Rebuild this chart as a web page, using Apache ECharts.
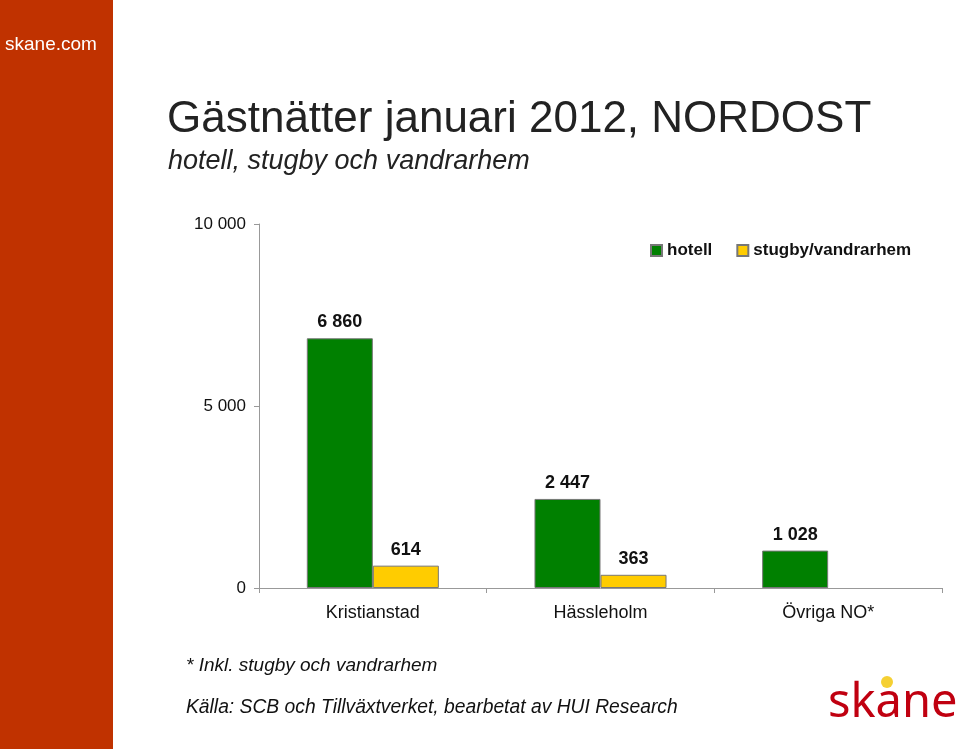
<!DOCTYPE html>
<html><head><meta charset="utf-8">
<script src="https://cdn.jsdelivr.net/npm/echarts@6/dist/echarts.min.js"></script>
<style>html,body{margin:0;padding:0;background:#fff}#c{width:959px;height:749px}</style>
</head><body><div id="c"></div>
<script>
var categories = ['Kristianstad', 'Hässleholm', 'Övriga NO*'];
var hotell = [6860, 2447, 1028];
var stugby = [614, 363, null];
var yTicks = [0, 5000, 10000];

function fmt(v) { return String(v).replace(/\B(?=(\d{3})+(?!\d))/g, ' '); }
var FF = "'Liberation Sans', Arial, sans-serif";

function txt(x, y, s, size, opts) {
  opts = opts || {};
  return {type: 'text', left: x, top: y, style: {text: s, fill: opts.fill || '#222', fontSize: size,
    fontFamily: opts.ff || FF, fontStyle: opts.italic ? 'italic' : 'normal', fontWeight: opts.bold ? 'bold' : 'normal'}};
}

var chart = echarts.init(document.getElementById('c'), null, {renderer: 'canvas'});
chart.setOption({
  animation: false,
  backgroundColor: '#fff',
  textStyle: {fontFamily: FF},
  graphic: [
    {type: 'rect', left: 0, top: 0, shape: {width: 113, height: 749}, style: {fill: '#c03200'}},
    txt(5, 35, 'skane.com', 19, {fill: '#fff'}),
    txt(167, 98, 'Gästnätter januari 2012, NORDOST', 44, {fill: '#222'}),
    txt(168, 148, 'hotell, stugby och vandrarhem', 27, {fill: '#222', italic: true}),
    txt(186, 656, '* Inkl. stugby och vandrarhem', 19, {fill: '#111', italic: true}),
    txt(186, 698, 'Källa: SCB och Tillväxtverket, bearbetat av HUI Research', 19.3, {fill: '#111', italic: true}),
    txt(828, 680, 'skane', 47, {fill: '#c00010', ff: "'Noto Sans', sans-serif"}),
    {type: 'circle', shape: {cx: 887, cy: 682, r: 6}, style: {fill: '#f5d033'}}
  ],
  legend: {
    top: 237, left: 645, itemWidth: 11, itemHeight: 11, itemGap: 24,
    icon: 'rect',
    textStyle: {fontSize: 17, fontWeight: 'bold', color: '#111', fontFamily: FF},
    data: ['hotell', 'stugby/vandrarhem']
  },
  grid: {left: 259, right: 17, top: 224, bottom: 161, containLabel: false},
  xAxis: {
    type: 'category', data: categories,
    axisLine: {lineStyle: {color: '#999'}},
    axisTick: {show: true, lineStyle: {color: '#999'}, length: 5},
    axisLabel: {fontSize: 18, color: '#111', margin: 16, fontFamily: FF}
  },
  yAxis: {
    type: 'value', min: 0, max: 10000, interval: 5000,
    splitLine: {show: false},
    axisLine: {show: true, lineStyle: {color: '#999'}},
    axisTick: {show: true, length: 5, lineStyle: {color: '#999'}},
    axisLabel: {fontSize: 17, color: '#111', margin: 13, fontFamily: FF, formatter: function (v) { return fmt(v); }}
  },
  series: [
    {name: 'hotell', type: 'bar', data: hotell, barGap: '0%', barCategoryGap: '42%',
     itemStyle: {color: '#008000', borderColor: '#777', borderWidth: 1},
     label: {show: true, position: 'top', distance: 7, fontSize: 18, fontWeight: 'bold', color: '#111', fontFamily: FF,
             formatter: function (p) { return fmt(p.value); }}},
    {name: 'stugby/vandrarhem', type: 'bar', data: stugby,
     itemStyle: {color: '#ffcc00', borderColor: '#777', borderWidth: 1},
     label: {show: true, position: 'top', distance: 7, fontSize: 18, fontWeight: 'bold', color: '#111', fontFamily: FF,
             formatter: function (p) { return fmt(p.value); }}}
  ]
});
</script></body></html>
